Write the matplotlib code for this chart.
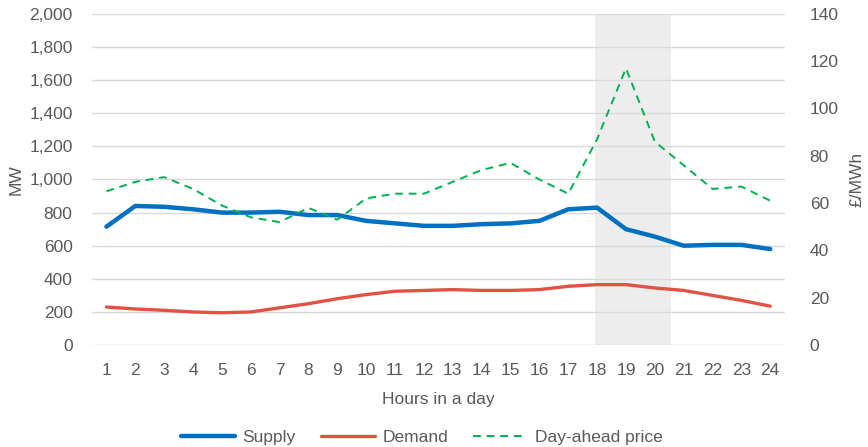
import matplotlib.pyplot as plt
import numpy as np

hours = list(range(1, 25))
supply = [715, 840, 835, 820, 800, 800, 805, 785, 785, 750, 735, 720,
          720, 730, 735, 750, 820, 830, 700, 655, 600, 605, 605, 580]
demand = [230, 218, 210, 200, 195, 200, 225, 250, 280, 305, 325, 330,
          335, 330, 330, 335, 355, 365, 365, 345, 330, 300, 270, 235]
price = [65, 69, 71, 66, 59, 54, 52, 58, 53, 62, 64, 64,
         69, 74, 77, 70, 64, 87, 117, 86, 76, 66, 67, 61]
peak_start, peak_end = 17.92, 20.55

text_col = '#595959'
plt.rcParams['font.family'] = ['Liberation Sans', 'DejaVu Sans']
plt.rcParams['font.size'] = 12.5

fig = plt.figure(figsize=(8.68, 4.47), dpi=100)
ax = fig.add_axes([0.106, 0.228, 0.798, 0.741])
ax2 = ax.twinx()

ax.axvspan(peak_start, peak_end, color='#ededed', zorder=0, lw=0)
ax.set_ylim(0, 2000)
ax.set_yticks(np.arange(0, 2001, 200))
ax.set_yticklabels([f'{v:,}' for v in range(0, 2001, 200)])
ax.set_xlim(0.5, 24.5)
ax.set_xticks(hours)
ax.grid(axis='y', color='#d9d9d9', lw=1)
ax.set_axisbelow(True)

l1, = ax.plot(hours, supply, color='#0070C0', lw=3.2, label='Supply', solid_capstyle='round', zorder=3)
l2, = ax.plot(hours, demand, color='#E05243', lw=2.4, label='Demand', solid_capstyle='round', zorder=3)
l3, = ax2.plot(hours, price, color='#00B050', lw=1.4, ls=(0, (4, 3)), label='Day-ahead price')

ax2.set_ylim(0, 140)
ax2.set_yticks(np.arange(0, 141, 20))

for a in (ax, ax2):
    for s in a.spines.values():
        s.set_visible(False)
    a.tick_params(length=0, colors=text_col)

ax.tick_params(axis='x', pad=13)
ax.tick_params(axis='y', pad=14)
ax2.tick_params(axis='y', pad=18)
ax.set_ylabel('MW', color=text_col, labelpad=4)
ax2.set_ylabel('£/MWh', color=text_col, labelpad=8)
ax.set_xlabel('Hours in a day', color=text_col, labelpad=10)

fig.legend(handles=[l1, l2, l3], loc='lower center', bbox_to_anchor=(0.486, -0.03),
           ncol=3, frameon=False, handlelength=3.1, handletextpad=0.45,
           columnspacing=1.45, labelcolor=text_col)

fig.savefig('out.png', dpi=100)
